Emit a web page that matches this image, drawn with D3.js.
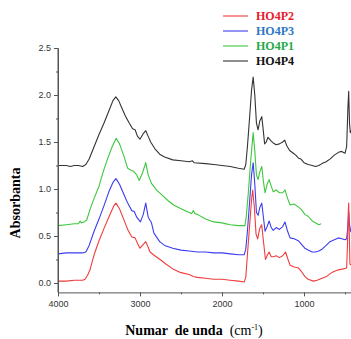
<!DOCTYPE html>
<html>
<head>
<meta charset="utf-8">
<script src="https://cdn.jsdelivr.net/npm/d3@7"></script>
<style>
  body { margin: 0; background: #fff; }
  svg { display: block; }
</style>
</head>
<body>
<div id="chart"></div>
<script>
// spectra, wavenumber (cm-1) and absorbance
const p4Wn  = [4000,3900,3850,3800,3750,3700,3660,3620,3560,3500,3440,3380,3330,3295,3260,3220,3180,3130,3090,3060,3030,3000,2960,2930,2900,2870,2820,2760,2700,2600,2500,2400,2360,2340,2200,2100,2000,1900,1800,1730,1710,1690,1660,1640,1620,1600,1580,1560,1540,1515,1500,1480,1460,1440,1420,1400,1375,1340,1300,1260,1235,1210,1175,1130,1100,1070,1040,1000,950,900,860,820,780,730,680,630,580,540,500,480,465,455,445,435,425,400];
const p4Abs = [1.25,1.25,1.24,1.25,1.25,1.24,1.26,1.32,1.45,1.58,1.70,1.83,1.94,1.98,1.94,1.86,1.78,1.70,1.64,1.63,1.56,1.53,1.59,1.62,1.56,1.50,1.43,1.37,1.34,1.31,1.30,1.29,1.30,1.28,1.27,1.26,1.25,1.24,1.22,1.21,1.26,1.45,1.80,2.05,2.19,2.00,1.70,1.63,1.72,1.77,1.65,1.48,1.50,1.55,1.53,1.51,1.49,1.47,1.48,1.50,1.52,1.46,1.41,1.38,1.36,1.33,1.32,1.28,1.26,1.25,1.24,1.25,1.27,1.29,1.32,1.36,1.39,1.40,1.38,1.45,1.85,2.04,1.70,1.60,1.62,1.60];

const p1Wn  = [4000,3900,3800,3750,3730,3715,3680,3650,3610,3560,3500,3450,3400,3340,3290,3250,3200,3150,3110,3080,3040,3010,2970,2930,2900,2860,2800,2750,2650,2590,2500,2430,2370,2350,2330,2300,2200,2100,2000,1900,1800,1720,1705,1680,1650,1620,1600,1580,1560,1540,1515,1495,1475,1450,1425,1400,1375,1340,1300,1260,1232,1200,1170,1120,1070,1030,990,950,900,860,820,790];
const p1Abs = [0.61,0.62,0.63,0.63,0.66,0.64,0.65,0.67,0.78,0.90,1.03,1.18,1.31,1.45,1.54,1.48,1.36,1.22,1.20,1.19,1.15,1.09,1.17,1.28,1.15,1.06,0.99,0.95,0.87,0.83,0.79,0.76,0.74,0.77,0.74,0.73,0.68,0.65,0.64,0.62,0.61,0.61,0.70,0.95,1.30,1.60,1.40,1.15,1.10,1.18,1.24,1.08,0.96,1.05,1.10,1.03,0.97,0.99,0.96,0.96,0.99,0.90,0.83,0.84,0.81,0.78,0.73,0.71,0.66,0.64,0.62,0.63];

const p3Wn  = [4000,3900,3800,3700,3660,3620,3560,3500,3440,3380,3330,3293,3250,3200,3150,3100,3070,3040,2995,2960,2930,2900,2860,2830,2760,2700,2600,2500,2400,2300,2200,2100,2000,1900,1800,1730,1710,1690,1660,1640,1620,1600,1580,1560,1540,1515,1495,1475,1450,1425,1400,1375,1340,1300,1260,1232,1200,1170,1120,1070,1030,990,950,900,860,820,780,730,683,630,580,540,500,480,465,455,445,430,400];
const p3Abs = [0.31,0.32,0.32,0.32,0.33,0.40,0.55,0.68,0.82,0.97,1.07,1.11,1.05,0.95,0.85,0.77,0.76,0.70,0.65,0.73,0.85,0.70,0.64,0.53,0.44,0.40,0.37,0.35,0.34,0.33,0.33,0.32,0.32,0.31,0.30,0.30,0.36,0.55,0.90,1.15,1.28,1.05,0.75,0.72,0.80,0.85,0.70,0.55,0.60,0.66,0.59,0.56,0.59,0.57,0.60,0.65,0.55,0.48,0.47,0.45,0.41,0.37,0.35,0.33,0.33,0.34,0.36,0.40,0.44,0.46,0.48,0.47,0.46,0.47,0.60,0.76,0.62,0.55,0.52];

const p2Wn  = [4000,3900,3800,3700,3670,3640,3610,3560,3500,3430,3370,3320,3293,3250,3200,3150,3100,3060,3030,3000,2960,2930,2900,2878,2820,2756,2680,2600,2500,2400,2350,2300,2200,2100,2000,1900,1800,1730,1710,1690,1660,1640,1626,1605,1585,1565,1540,1516,1495,1470,1445,1425,1400,1370,1340,1300,1260,1225,1195,1170,1120,1069,1030,990,950,886,840,780,723,680,642,580,520,480,470,460,455,448,440,400];
const p2Abs = [0.02,0.02,0.03,0.03,0.04,0.08,0.14,0.30,0.45,0.60,0.72,0.82,0.85,0.79,0.68,0.57,0.49,0.48,0.42,0.37,0.41,0.44,0.38,0.33,0.29,0.25,0.20,0.15,0.11,0.09,0.07,0.06,0.05,0.04,0.04,0.03,0.02,0.01,0.06,0.30,0.65,0.88,0.99,0.80,0.52,0.47,0.58,0.62,0.45,0.25,0.30,0.33,0.28,0.28,0.29,0.27,0.29,0.33,0.25,0.19,0.17,0.16,0.12,0.07,0.04,0.02,0.03,0.05,0.07,0.10,0.12,0.14,0.15,0.16,0.40,0.75,0.85,0.55,0.20,0.18];

const seriesNames  = ["HO4P2", "HO4P3", "HO4P1", "HO4P4"];
const lineColors   = ["#f03c3c", "#3c3cf0", "#3cc83c", "#333333"];
const legendColors = ["#e8192c", "#2e78c0", "#1faa48", "#111111"];

const xTicks = [4000, 3000, 2000, 1000];
const yTicks = [0.0, 0.5, 1.0, 1.5, 2.0, 2.5];

const width = 351, height = 339;

const svg = d3.select("#chart").append("svg")
  .attr("width", width)
  .attr("height", height);

const x = d3.scaleLinear().domain([4000, 400]).range([58, 353.2]);
const y = d3.scaleLinear().domain([-0.1, 2.5]).range([292.4, 48]);

const series = [
  { name: "HO4P4", wn: p4Wn, abs: p4Abs },
  { name: "HO4P1", wn: p1Wn, abs: p1Abs },
  { name: "HO4P3", wn: p3Wn, abs: p3Abs },
  { name: "HO4P2", wn: p2Wn, abs: p2Abs }
];

const line = d3.line()
  .x(d => x(d[0]))
  .y(d => y(d[1]));

const plot = svg.append("g");
plot.selectAll("path").data(series).join("path")
  .attr("d", s => line(s.wn.map((w, i) => [w, s.abs[i]])))
  .attr("fill", "none")
  .attr("stroke", s => lineColors[seriesNames.indexOf(s.name)])
  .attr("stroke-width", 1.1)
  .attr("stroke-linejoin", "round");

// axes
const axisColor = "#555";
const yAxis = svg.append("g").attr("transform", "translate(58,0)")
  .call(d3.axisLeft(y).tickValues(yTicks).tickFormat(d3.format(".1f")).tickSize(4).tickSizeOuter(0));
svg.append("g").attr("transform", "translate(58,0)")
  .call(d3.axisLeft(y).tickValues(d3.range(0.25, 2.5, 0.5)).tickFormat("").tickSize(2).tickSizeOuter(0))
  .select(".domain").remove();
svg.append("line").attr("x1", 58).attr("x2", 58).attr("y1", y(2.5)).attr("y2", y(-0.1))
  .attr("stroke", axisColor);

const xAxis = svg.append("g").attr("transform", "translate(0,292.4)")
  .call(d3.axisBottom(x).tickValues(xTicks).tickFormat(d3.format("d")).tickSize(4).tickSizeOuter(0));
svg.append("g").attr("transform", "translate(0,292.4)")
  .call(d3.axisBottom(x).tickValues([3500, 2500, 1500, 500]).tickFormat("").tickSize(2).tickSizeOuter(0))
  .select(".domain").remove();

svg.selectAll(".domain").attr("stroke", axisColor);
svg.selectAll(".tick line").attr("stroke", axisColor);
svg.selectAll(".tick text")
  .attr("fill", "#333")
  .style("font-family", "Arial, 'Liberation Sans', sans-serif")
  .style("font-size", "9px");
yAxis.selectAll(".tick text").attr("x", -7);
xAxis.selectAll(".tick text").attr("y", 8);

// axis titles
const xt = svg.append("text")
  .attr("x", 194).attr("y", 335)
  .attr("text-anchor", "middle")
  .style("white-space", "pre")
  .style("font-family", "'Times New Roman', 'Liberation Serif', serif")
  .style("font-size", "14px");
xt.append("tspan").attr("font-weight", "bold").text("Numar  de unda  ");
xt.append("tspan").text("(cm");
xt.append("tspan").attr("dy", -5).style("font-size", "8px").text("-1");
xt.append("tspan").attr("dy", 5).text(")");

svg.append("text")
  .attr("transform", "translate(20,203) rotate(-90)")
  .attr("text-anchor", "middle")
  .style("font-family", "'Times New Roman', 'Liberation Serif', serif")
  .style("font-size", "14px")
  .attr("font-weight", "bold")
  .text("Absorbanta");

// legend
const legend = svg.append("g");
const rows = legend.selectAll("g").data(seriesNames).join("g")
  .attr("transform", (d, i) => `translate(223,${16 + i * 15})`);
rows.append("line")
  .attr("x1", 0).attr("x2", 25)
  .attr("stroke", (d, i) => lineColors[i])
  .attr("stroke-width", 1.1);
rows.append("text")
  .attr("x", 33).attr("y", 4)
  .attr("fill", (d, i) => legendColors[i])
  .attr("font-weight", "bold")
  .style("font-family", "'Times New Roman', 'Liberation Serif', serif")
  .style("font-size", "12px")
  .text(d => d);
</script>
</body>
</html>
